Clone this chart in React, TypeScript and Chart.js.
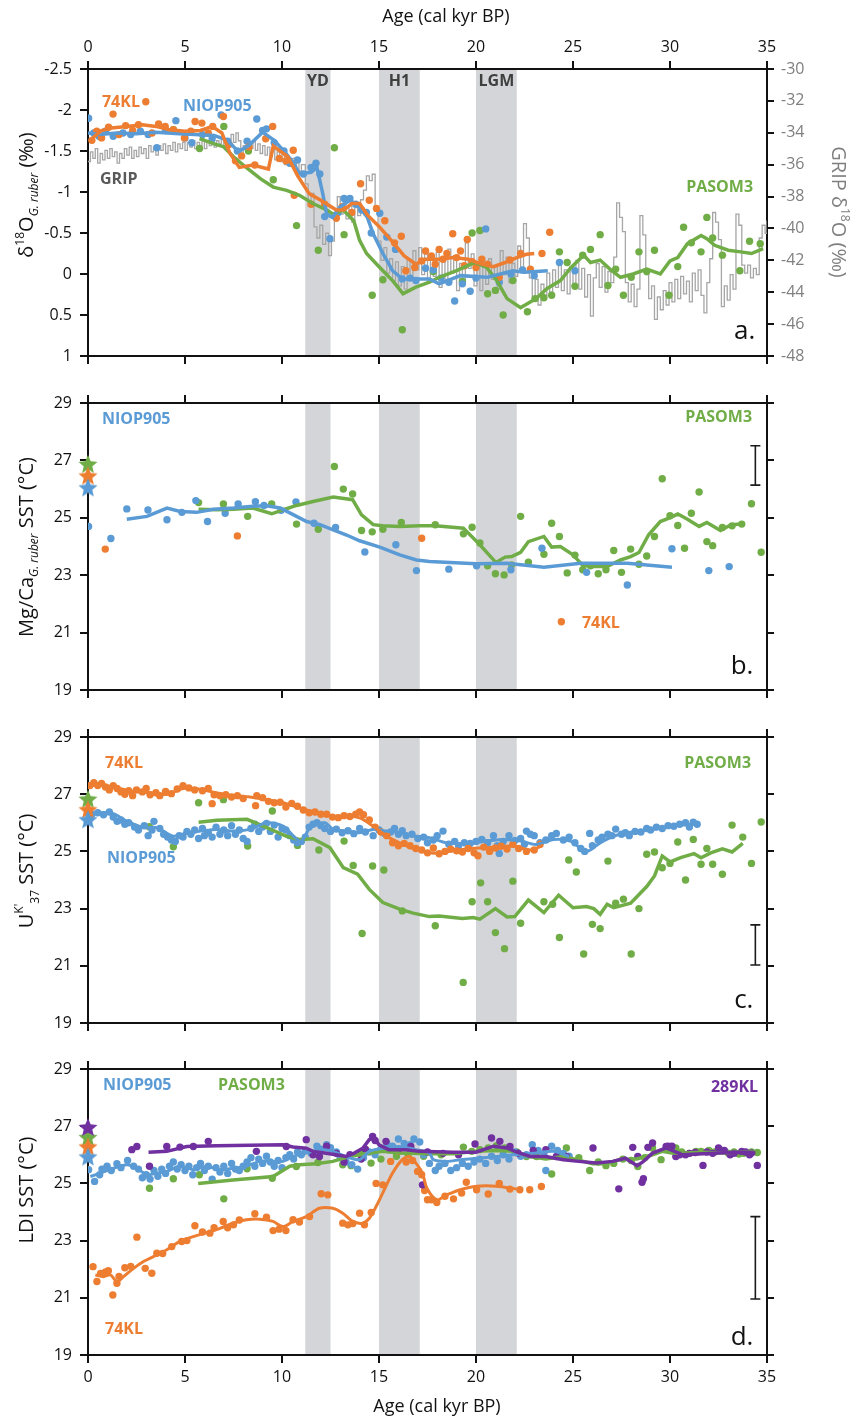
import React, { useEffect, useRef } from 'react';
import { Chart, registerables } from 'chart.js';

Chart.register(...registerables);

type P = [number, number];

const ORANGE = '#ED7D31';
const BLUE = '#5B9BD5';
const GREEN = '#70AD47';
const PURPLE = '#7030A0';
const GRIPC = '#A6A6A6';
const BANDC = '#D4D5D8';
const FONT = "'Open Sans', 'Liberation Sans', sans-serif";

// ---------- shared ----------
const ageTicks = [0, 5, 10, 15, 20, 25, 30, 35];
const eventBands = [
  { from: 11.2, to: 12.5, label: 'YD' },
  { from: 15.0, to: 17.1, label: 'H1' },
  { from: 20.0, to: 22.1, label: 'LGM' },
];

// ---------- panel a : d18O G. ruber (permil) + GRIP ----------
const a74KLPoints: P[] = [[0.2,-1.63],[0.45,-1.74],[0.7,-1.66],[1.06,-1.79],[1.29,-1.95],[1.6,-1.7],[1.94,-1.81],[2.3,-1.75],[2.6,-1.82],[2.98,-2.1],[3.3,-1.72],[3.64,-1.83],[3.98,-1.8],[4.4,-1.76],[4.97,-1.66],[5.3,-1.74],[5.52,-1.86],[5.87,-1.84],[6.2,-1.72],[6.43,-1.8],[6.98,-1.92],[7.27,-1.58],[7.6,-1.38],[7.92,-1.44],[8.3,-1.55],[8.6,-1.33],[9.16,-1.65],[9.52,-1.8],[9.86,-1.41],[10.2,-1.38],[10.58,-1.51],[10.63,-0.96],[11.5,-0.85],[12.2,-0.85],[12.8,-0.68],[13.1,-0.82],[13.6,-0.75],[14.05,-1.1],[14.5,-0.9],[14.87,-0.8],[15.3,-0.65],[15.8,-0.38],[16.15,-0.46],[16.38,-0.04],[16.84,-0.08],[17.2,-0.16],[17.4,-0.28],[17.7,-0.22],[17.9,-0.12],[18.1,-0.3],[18.3,-0.18],[18.5,-0.25],[18.8,-0.49],[19.0,-0.2],[19.2,-0.28],[19.4,-0.1],[19.55,-0.42],[19.8,-0.15],[20.0,-0.08],[20.3,-0.18],[20.6,-0.12],[21.2,0.04],[21.75,-0.17],[22.3,-0.25],[22.8,-0.06],[23.4,-0.25],[23.8,-0.51]];
const a74KLLine: P[] = [[0.2,-1.65],[0.7,-1.75],[1.2,-1.78],[2.0,-1.8],[2.8,-1.82],[3.5,-1.8],[4.2,-1.76],[5.0,-1.74],[5.8,-1.75],[6.4,-1.8],[6.9,-1.72],[7.3,-1.48],[7.8,-1.3],[8.5,-1.33],[9.3,-1.28],[9.55,-1.56],[10.3,-1.43],[10.8,-1.2],[11.4,-0.98],[12.0,-0.9],[12.8,-0.78],[13.2,-0.78],[13.6,-0.86],[14.0,-0.86],[14.4,-0.72],[15.0,-0.58],[15.6,-0.42],[16.3,-0.22],[16.9,-0.12],[17.4,-0.18],[18.1,-0.18],[18.8,-0.2],[19.6,-0.18],[20.3,-0.12],[20.9,-0.09],[21.5,-0.14],[22.1,-0.2],[22.6,-0.24],[23.0,-0.25]];
const aNiopPoints: P[] = [[0.03,-1.9],[0.3,-1.72],[0.57,-1.68],[0.9,-1.74],[1.3,-1.68],[1.8,-1.72],[2.2,-1.7],[2.7,-1.74],[3.1,-1.7],[3.55,-1.54],[4.0,-1.75],[4.53,-1.87],[5.0,-1.66],[5.35,-1.6],[5.9,-1.7],[6.4,-1.65],[6.86,-1.94],[7.2,-1.62],[7.7,-1.5],[8.2,-1.62],[8.7,-1.89],[9.0,-1.75],[9.2,-1.77],[9.6,-1.6],[10.1,-1.5],[10.4,-1.35],[10.8,-1.39],[11.1,-1.22],[11.5,-1.3],[11.75,-1.35],[11.95,-1.22],[12.2,-0.7],[12.47,-0.43],[12.9,-0.75],[13.2,-0.92],[13.5,-0.92],[13.8,-0.85],[14.1,-0.78],[14.35,-0.75],[14.6,-0.5],[15.04,-0.74],[15.4,-0.45],[15.85,-0.3],[16.2,0.06],[16.6,0.05],[16.9,0.08],[17.4,-0.07],[17.8,-0.05],[18.2,0.05],[18.6,0.1],[18.9,0.33],[19.3,0.12],[19.7,0.21],[20.0,0.05],[20.5,-0.55],[21.2,0.1],[21.8,0.0],[22.4,-0.05],[23.0,0.02],[24.3,-0.14],[25.1,-0.04]];
const aNiopLine: P[] = [[0,-1.72],[0.6,-1.7],[1.5,-1.72],[2.5,-1.71],[3.5,-1.73],[4.7,-1.71],[5.5,-1.7],[6.5,-1.69],[7.2,-1.63],[7.75,-1.49],[8.3,-1.57],[9.0,-1.73],[9.6,-1.63],[10.2,-1.47],[10.6,-1.35],[10.9,-1.22],[11.5,-1.24],[11.8,-1.3],[12.1,-0.98],[12.3,-0.73],[12.6,-0.69],[13.0,-0.82],[13.5,-0.9],[14.0,-0.82],[14.4,-0.69],[14.7,-0.49],[15.2,-0.25],[15.7,-0.04],[16.2,0.06],[16.9,0.06],[17.6,0.06],[18.1,0.12],[19.2,0.02],[20.6,0.04],[21.9,-0.04],[22.5,-0.02],[23.7,-0.04]];
const aPasomPoints: P[] = [[4.4,-1.76],[5.75,-1.53],[7.0,-1.8],[8.27,-1.5],[9.55,-1.15],[10.75,-0.59],[11.87,-0.29],[12.7,-1.54],[13.2,-0.48],[14.65,0.26],[15.2,0.07],[16.2,0.68],[17.8,-0.03],[19.3,0.09],[19.8,-0.5],[20.2,-0.53],[20.6,0.24],[21.0,0.2],[21.4,0.5],[21.9,0.08],[22.65,0.46],[23.05,0.3],[23.5,0.29],[23.9,0.26],[24.3,-0.27],[24.7,-0.14],[25.1,0.15],[25.5,-0.23],[25.9,-0.3],[26.4,-0.48],[26.8,0.14],[27.2,-0.06],[27.6,0.26],[28.0,0.04],[28.4,-0.27],[28.8,-0.03],[29.2,-0.29],[29.95,0.26],[30.4,-0.09],[30.7,-0.57],[31.1,-0.38],[31.6,-0.27],[31.9,-0.69],[32.2,-0.44],[32.7,-0.23],[33.6,-0.04],[34.1,-0.4],[34.65,-0.37]];
const aPasomLine: P[] = [[5.75,-1.65],[6.47,-1.59],[7.0,-1.55],[7.5,-1.43],[8.2,-1.29],[8.9,-1.16],[9.55,-1.06],[10.24,-1.02],[10.9,-0.96],[11.6,-0.86],[12.3,-0.78],[12.64,-0.73],[13.16,-0.78],[13.7,-0.65],[14.0,-0.41],[14.36,-0.25],[15.04,-0.08],[15.7,0.08],[16.24,0.24],[16.9,0.16],[17.6,0.1],[18.1,0.04],[19.0,-0.04],[19.95,-0.14],[20.55,-0.08],[21.07,0.08],[21.6,0.3],[22.3,0.41],[22.6,0.37],[23.1,0.3],[23.65,0.18],[24.35,0.08],[24.9,-0.08],[25.55,-0.23],[25.9,-0.14],[26.4,-0.17],[26.9,-0.06],[27.45,0.04],[28.1,0.0],[28.8,-0.06],[29.5,0.0],[30.0,-0.16],[30.4,-0.2],[30.9,-0.37],[31.6,-0.47],[31.9,-0.43],[32.3,-0.35],[33.0,-0.29],[33.65,-0.27],[34.2,-0.25],[34.8,-0.31]];
const gripD18O: P[] = [[0,-35.8],[0.125,-35.2],[0.25,-35.6],[0.375,-35.0],[0.5,-35.9],[0.625,-35.3],[0.75,-35.7],[0.875,-35.1],[1,-35.6],[1.125,-35.0],[1.25,-35.5],[1.375,-35.2],[1.5,-35.9],[1.625,-35.3],[1.75,-35.6],[1.875,-35.0],[2,-35.4],[2.125,-34.9],[2.25,-35.6],[2.375,-35.1],[2.5,-35.5],[2.625,-34.9],[2.75,-35.3],[2.875,-35.0],[3,-35.6],[3.125,-34.8],[3.25,-35.2],[3.375,-34.9],[3.5,-35.4],[3.625,-34.8],[3.75,-35.1],[3.875,-34.7],[4,-35.3],[4.125,-34.8],[4.25,-35.1],[4.375,-34.6],[4.5,-35.2],[4.625,-34.7],[4.75,-35.0],[4.875,-34.6],[5,-35.1],[5.125,-34.6],[5.25,-34.9],[5.375,-34.5],[5.5,-35.0],[5.625,-34.6],[5.75,-34.8],[5.875,-34.4],[6,-35.0],[6.125,-34.5],[6.25,-34.8],[6.375,-34.3],[6.5,-34.9],[6.625,-34.5],[6.75,-34.7],[6.875,-34.3],[7,-34.9],[7.125,-34.4],[7.25,-34.8],[7.375,-34.1],[7.5,-34.6],[7.625,-34.0],[7.75,-34.5],[7.875,-35.3],[8,-34.8],[8.125,-35.2],[8.25,-34.6],[8.375,-35.0],[8.5,-34.5],[8.625,-35.1],[8.75,-34.7],[8.875,-35.3],[9,-34.8],[9.125,-35.4],[9.25,-34.9],[9.375,-35.5],[9.5,-35.0],[9.625,-35.7],[9.75,-35.2],[9.875,-35.8],[10,-35.3],[10.125,-36.0],[10.25,-35.5],[10.375,-36.1],[10.5,-35.6],[10.625,-36.2],[10.75,-35.8],[10.875,-36.4],[11,-36.0],[11.2,-37.2],[11.35,-38.6],[11.5,-37.8],[11.65,-39.9],[11.8,-40.6],[11.95,-39.8],[12.1,-41.0],[12.25,-40.3],[12.4,-41.7],[12.55,-40.8],[12.7,-39.2],[12.85,-38.0],[13,-39.1],[13.15,-38.3],[13.3,-39.4],[13.45,-38.6],[13.6,-39.6],[13.75,-38.7],[13.9,-39.2],[14.05,-38.2],[14.2,-37.6],[14.35,-36.7],[14.5,-37.0],[14.65,-36.6],[14.8,-38.9],[14.95,-40.8],[15.1,-42.0],[15.25,-41.2],[15.4,-42.8],[15.55,-41.9],[15.7,-43.3],[15.85,-42.1],[16,-43.6],[16.15,-42.4],[16.3,-43.8],[16.45,-42.0],[16.6,-43.1],[16.75,-41.4],[16.9,-42.6],[17.05,-41.2],[17.2,-42.9],[17.35,-41.6],[17.5,-43.4],[17.65,-41.9],[17.8,-43.0],[17.95,-41.5],[18.1,-43.7],[18.25,-42.0],[18.4,-43.2],[18.55,-41.3],[18.7,-42.8],[18.85,-41.7],[19,-43.9],[19.15,-42.2],[19.3,-43.4],[19.45,-40.9],[19.6,-42.5],[19.75,-41.6],[19.9,-43.6],[20.05,-42.3],[20.2,-43.9],[20.35,-42.1],[20.5,-43.5],[20.65,-41.9],[20.8,-43.2],[20.95,-42.4],[21.1,-43.8],[21.25,-41.4],[21.4,-42.9],[21.55,-41.8],[21.7,-43.4],[21.85,-42.2],[22,-43.0],[22.15,-41.1],[22.3,-42.7],[22.45,-39.7],[22.6,-40.6],[22.75,-43.1],[22.9,-44.4],[23.05,-43.2],[23.2,-44.8],[23.35,-43.5],[23.5,-44.2],[23.65,-42.8],[23.8,-44.0],[23.95,-42.6],[24.1,-43.7],[24.25,-42.3],[24.4,-43.9],[24.55,-42.6],[24.7,-44.1],[24.85,-42.4],[25,-43.6],[25.15,-42.0],[25.3,-43.8],[25.45,-42.5],[25.6,-44.3],[25.75,-42.9],[25.9,-45.5],[26.05,-43.1],[26.2,-42.2],[26.35,-43.7],[26.5,-42.4],[26.65,-44.0],[26.8,-42.7],[26.95,-43.4],[27.1,-41.8],[27.25,-38.4],[27.4,-39.3],[27.55,-40.2],[27.7,-43.4],[27.85,-44.6],[28,-43.5],[28.15,-44.9],[28.3,-43.8],[28.45,-39.2],[28.6,-40.4],[28.75,-42.9],[28.9,-44.4],[29.05,-43.6],[29.2,-45.7],[29.35,-44.3],[29.5,-45.1],[29.65,-43.9],[29.8,-44.8],[29.95,-43.4],[30.1,-44.6],[30.25,-43.2],[30.4,-44.4],[30.55,-43.0],[30.7,-44.1],[30.85,-43.3],[31,-44.6],[31.15,-42.8],[31.3,-43.9],[31.45,-42.6],[31.6,-44.2],[31.75,-45.3],[31.9,-43.4],[32.05,-41.9],[32.2,-39.0],[32.35,-39.6],[32.5,-40.7],[32.65,-44.9],[32.8,-43.6],[32.95,-44.5],[33.1,-42.9],[33.25,-43.8],[33.4,-39.1],[33.55,-39.8],[33.7,-42.3],[33.85,-42.8],[34,-42.3],[34.15,-43.1],[34.3,-42.5],[34.45,-42.9],[34.6,-40.6],[34.75,-39.8],[34.9,-40.3],[35,-39.5]];

// ---------- panel b : Mg/Ca SST ----------
const bNiopPoints: P[] = [[0.03,24.7],[1.18,24.28],[2.0,25.31],[3.09,25.27],[4.07,24.93],[4.84,25.19],[5.56,25.6],[6.16,24.87],[7.07,25.16],[7.74,25.48],[8.63,25.56],[9.07,25.43],[9.95,25.26],[10.72,25.55],[11.65,24.81],[12.76,24.66],[14.27,23.81],[15.87,24.06],[16.93,23.16],[18.6,23.21],[20.03,23.33],[21.8,23.19],[23.4,23.94],[25.7,23.1],[27.8,22.66],[30.1,23.92],[32.0,23.16],[33.05,23.3]];
const bNiopLine: P[] = [[2.0,24.95],[3.04,25.05],[4.07,25.34],[4.75,25.22],[5.6,25.19],[6.47,25.3],[7.5,25.34],[8.5,25.4],[9.2,25.42],[9.9,25.34],[10.6,25.1],[11.27,24.87],[11.96,24.76],[12.64,24.58],[13.33,24.4],[14.0,24.2],[15.04,23.98],[16.07,23.71],[16.93,23.53],[17.6,23.48],[18.66,23.44],[20.03,23.4],[21.6,23.42],[23.5,23.28],[25.4,23.42],[27.8,23.42],[30.1,23.28]];
const bPasomPoints: P[] = [[5.7,25.53],[6.98,25.48],[8.23,25.05],[9.47,25.48],[10.75,24.78],[11.87,24.6],[12.7,26.79],[13.16,26.0],[13.64,25.83],[14.1,24.56],[14.65,24.51],[15.2,24.6],[16.15,24.84],[17.9,24.76],[19.35,24.44],[19.8,24.67],[20.2,24.12],[20.6,23.33],[21.0,23.05],[21.45,23.01],[21.84,23.36],[22.3,25.05],[22.7,23.45],[23.5,23.73],[23.9,24.81],[24.3,24.35],[24.7,23.08],[25.1,23.7],[25.5,23.19],[25.9,23.33],[26.3,23.05],[26.7,23.19],[27.1,23.86],[27.5,23.1],[27.97,23.91],[28.4,23.38],[28.8,23.67],[29.2,24.35],[29.6,26.36],[30.0,25.07],[30.4,24.73],[30.75,23.94],[31.1,25.16],[31.5,25.9],[31.9,24.17],[32.2,24.03],[32.7,24.66],[33.2,24.72],[33.7,24.78],[34.2,25.49],[34.7,23.8]];
const bPasomLine: P[] = [[5.7,25.3],[6.64,25.28],[7.5,25.3],[8.5,25.34],[9.47,25.14],[10.07,25.28],[10.75,25.43],[11.6,25.57],[12.64,25.72],[13.64,25.63],[14.1,25.1],[14.7,24.76],[15.2,24.72],[16.07,24.7],[17.1,24.72],[17.9,24.72],[19.35,24.64],[20.2,24.06],[21.03,23.44],[21.5,23.63],[21.84,23.65],[22.3,23.8],[22.7,24.17],[23.5,24.35],[23.9,23.98],[24.35,24.0],[25.0,23.71],[25.5,23.34],[26.0,23.3],[26.76,23.3],[27.45,23.53],[27.97,23.65],[28.4,23.79],[28.9,24.41],[29.5,24.87],[29.95,24.99],[30.4,25.13],[30.9,24.95],[31.5,24.7],[31.9,24.84],[32.6,24.56],[33.15,24.76],[33.65,24.78]];
const b74KLPoints: P[] = [[0.89,23.91],[7.7,24.37],[17.2,24.29],[24.4,21.38]];
const bCoretopSST = { niop: 26.06, kl74: 26.47, pasom: 26.88 };
const bErrorBar = { age: 34.4, lo: 26.14, hi: 27.51 };

// ---------- panel c : UK'37 SST ----------
const c74KLPoints: P[] = [[0.1,27.3],[0.3,27.4],[0.5,27.3],[0.7,27.38],[0.9,27.25],[1.1,27.15],[1.3,27.3],[1.5,27.2],[1.7,27.08],[1.9,27.0],[2.1,27.12],[2.3,26.95],[2.5,27.15],[2.8,27.08],[3.0,27.2],[3.2,26.98],[3.5,27.05],[3.7,26.95],[4.0,27.1],[4.3,27.02],[4.6,27.18],[4.9,27.3],[5.2,27.22],[5.5,27.15],[5.9,27.12],[6.2,27.2],[6.4,26.67],[6.5,26.98],[6.8,26.95],[7.1,26.98],[7.4,26.9],[7.7,26.95],[8.0,26.85],[8.64,26.6],[8.7,26.95],[9.0,26.88],[9.3,26.75],[9.6,26.7],[9.9,26.72],[10.2,26.55],[10.5,26.68],[10.8,26.58],[11.1,26.45],[11.4,26.35],[11.7,26.38],[12.0,26.3],[12.3,26.3],[12.6,26.2],[12.9,26.18],[13.2,26.25],[13.5,26.22],[13.8,26.3],[14.0,26.38],[14.2,26.28],[14.5,26.1],[14.8,25.85],[15.1,25.68],[15.4,25.55],[15.7,25.3],[16.0,25.2],[16.3,25.28],[16.6,25.2],[16.9,25.1],[17.2,25.05],[17.5,24.95],[17.8,25.12],[18.1,24.92],[18.4,25.0],[18.7,25.08],[19.0,25.02],[19.3,24.98],[19.6,25.1],[19.9,24.95],[20.1,24.85],[20.4,25.15],[20.7,25.0],[21.0,25.12],[21.3,25.18],[21.6,25.08],[21.9,25.25],[22.2,25.1],[22.6,25.0],[23.0,25.05],[23.3,25.25]];
const c74KLLine: P[] = [[0.0,27.28],[0.6,27.34],[1.5,27.22],[2.3,27.1],[3.2,27.05],[4.07,26.99],[4.9,27.2],[5.8,27.17],[6.6,27.05],[7.5,26.95],[8.35,26.9],[9.2,26.81],[10.07,26.7],[10.9,26.52],[11.8,26.35],[12.64,26.23],[13.3,26.23],[14.0,26.17],[14.7,25.88],[15.4,25.53],[16.07,25.3],[16.9,25.07],[17.6,24.95],[18.1,24.95],[19.3,25.07],[20.55,25.13],[21.9,25.19],[22.8,25.05],[23.45,25.21]];
const cNiopPoints: P[] = [[0.0,26.2],[0.2,26.3],[0.5,26.35],[0.8,26.28],[1.1,26.38],[1.3,26.2],[1.5,26.05],[1.7,26.1],[1.9,25.95],[2.1,26.0],[2.4,25.85],[2.6,25.75],[2.9,25.9],[3.1,25.55],[3.3,25.75],[3.4,26.05],[3.7,25.8],[3.9,25.6],[4.1,25.5],[4.3,25.4],[4.5,25.35],[4.7,25.55],[4.9,25.5],[5.1,25.7],[5.3,25.6],[5.5,25.75],[5.7,25.45],[5.9,25.8],[6.0,25.55],[6.2,25.65],[6.4,25.5],[6.6,25.85],[6.8,25.6],[7.0,25.75],[7.2,25.55],[7.4,25.9],[7.6,25.6],[7.8,25.75],[8.0,25.45],[8.2,25.35],[8.4,25.8],[8.6,25.95],[8.8,25.7],[9.0,25.85],[9.2,25.98],[9.4,25.7],[9.6,25.92],[9.8,25.5],[10.0,25.8],[10.2,25.75],[10.4,25.55],[10.6,25.4],[10.8,25.3],[11.0,25.35],[11.2,25.5],[11.4,25.85],[11.6,25.95],[11.8,26.0],[12.0,25.9],[12.2,25.8],[12.5,25.7],[12.8,25.78],[13.1,25.65],[13.4,25.72],[13.7,25.62],[14.0,25.8],[14.3,25.68],[14.7,25.55],[15.0,25.75],[15.3,25.62],[15.6,25.68],[15.8,25.8],[16.0,25.6],[16.2,25.72],[16.4,25.55],[16.7,25.6],[17.0,25.45],[17.3,25.5],[17.5,25.3],[17.8,25.4],[18.0,25.55],[18.3,25.71],[18.6,25.25],[18.9,25.35],[19.1,25.2],[19.4,25.3],[19.7,25.28],[20.0,25.35],[20.3,25.42],[20.6,25.3],[20.9,25.55],[21.1,25.2],[21.2,24.93],[21.4,25.35],[21.7,25.55],[22.0,25.38],[22.3,25.45],[22.5,25.25],[22.6,25.71],[22.8,25.6],[23.0,25.55],[23.3,25.3],[23.6,25.4],[23.9,25.55],[24.14,25.63],[24.5,25.4],[24.8,25.5],[25.1,25.3],[25.4,25.1],[25.6,25.0],[25.86,25.63],[26.0,25.2],[26.3,25.4],[26.5,25.5],[26.8,25.6],[27.0,25.55],[27.2,25.78],[27.5,25.6],[27.7,25.65],[27.9,25.55],[28.2,25.7],[28.5,25.68],[28.8,25.8],[29.0,25.75],[29.3,25.85],[29.6,25.8],[29.9,25.9],[30.2,25.88],[30.5,25.95],[30.8,26.0],[31.0,25.85],[31.2,26.02],[31.4,25.95]];
const cNiopLine: P[] = [[0,26.29],[1.15,26.35],[2.0,26.06],[2.86,25.83],[3.55,25.83],[4.4,25.53],[5.1,25.65],[5.8,25.71],[6.6,25.77],[7.5,25.71],[8.35,25.77],[9.2,26.0],[10.07,25.88],[10.6,25.53],[11.0,25.36],[11.5,25.88],[12.2,26.0],[12.64,25.77],[13.33,25.71],[14.0,25.65],[14.7,25.77],[15.4,25.71],[16.07,25.65],[16.9,25.53],[17.6,25.48],[18.5,25.3],[19.7,25.28],[20.55,25.36],[21.4,25.42],[22.3,25.36],[23.1,25.24],[24.0,25.42],[24.86,25.36],[25.7,25.0],[26.4,25.3],[27.1,25.53],[27.8,25.65],[28.5,25.71],[29.2,25.77],[30.0,25.88],[30.9,25.94],[31.4,25.94]];
const cPasomPoints: P[] = [[3.16,25.86],[4.4,25.16],[5.7,26.7],[6.98,26.81],[8.23,25.19],[9.5,26.41],[10.8,25.21],[11.9,25.05],[13.2,25.36],[13.67,24.51],[14.13,22.13],[14.67,24.49],[15.25,24.35],[16.2,22.92],[17.9,22.4],[19.34,20.42],[19.8,23.24],[20.24,23.9],[20.6,23.24],[21.0,22.16],[21.47,21.6],[21.9,23.96],[22.3,22.49],[23.5,23.24],[23.95,23.15],[24.3,21.99],[24.78,24.7],[25.17,24.28],[25.55,21.41],[26.0,22.45],[26.4,22.3],[26.8,24.66],[27.2,23.19],[27.6,23.33],[28.0,21.41],[28.4,23.0],[28.8,24.9],[29.2,24.98],[29.6,24.43],[30.0,24.58],[30.4,25.33],[30.8,24.0],[31.2,25.42],[31.6,24.55],[31.9,25.1],[32.2,24.55],[32.7,24.2],[33.2,25.92],[33.75,25.5],[34.2,24.58],[34.7,26.03]];
const cPasomLine: P[] = [[5.7,26.02],[6.64,26.09],[8.2,26.12],[9.04,25.88],[10.24,25.53],[10.9,25.42],[11.6,25.44],[12.47,25.13],[13.16,24.43],[13.9,24.2],[14.5,23.67],[15.2,23.21],[16.07,22.98],[16.76,22.84],[17.6,22.72],[18.1,22.74],[19.3,22.65],[19.86,22.69],[20.2,22.63],[21.0,23.0],[21.6,22.71],[22.0,22.72],[22.7,23.3],[23.5,22.86],[24.26,23.47],[25.0,23.03],[25.7,23.07],[26.07,23.0],[26.4,22.8],[26.76,23.15],[27.1,23.03],[27.97,23.19],[28.8,23.77],[29.2,24.14],[29.6,24.84],[30.0,24.63],[30.55,24.78],[31.24,24.92],[31.6,24.78],[32.1,24.95],[32.7,25.09],[33.2,24.98],[33.75,25.28]];
const cCoretopSST = { niop: 26.12, kl74: 26.47, pasom: 26.84 };
const cErrorBar = { age: 34.4, lo: 21.03, hi: 22.43 };

// ---------- panel d : LDI SST ----------
const d74KLPoints: P[] = [[0.26,22.09],[0.46,21.57],[0.65,21.85],[0.9,21.9],[1.05,21.95],[1.28,21.1],[1.49,21.51],[1.6,21.75],[1.9,22.05],[2.2,22.1],[2.52,23.12],[2.95,22.03],[3.29,21.86],[3.55,22.56],[3.85,22.55],[4.32,22.79],[4.83,22.97],[5.1,23.0],[5.51,23.52],[5.9,23.3],[6.28,23.26],[6.5,23.45],[6.97,23.67],[7.2,23.45],[7.5,23.55],[7.8,23.72],[8.6,23.94],[9.2,23.82],[9.54,23.35],[9.85,23.4],[10.2,23.35],[10.57,23.73],[10.9,23.65],[11.42,23.84],[12.02,24.64],[12.36,24.6],[13.13,23.61],[13.4,23.55],[13.65,23.6],[14.0,23.96],[14.25,23.55],[14.6,23.98],[14.85,25.0],[15.19,24.95],[15.6,25.77],[16.0,26.12],[16.4,25.75],[16.73,25.8],[16.99,25.42],[17.2,25.3],[17.35,24.75],[17.5,24.43],[17.7,24.43],[17.98,24.33],[18.4,24.55],[18.84,24.46],[19.26,24.66],[19.5,25.04],[20.03,24.78],[20.63,24.63],[21.2,25.0],[21.75,24.8],[22.26,24.78],[22.77,24.78],[23.37,24.89]];
const d74KLLine: P[] = [[0.38,21.8],[0.8,21.74],[1.15,21.8],[1.5,21.57],[1.83,21.74],[2.35,22.03],[2.86,22.27],[3.37,22.44],[4.06,22.68],[4.74,22.97],[5.43,23.14],[6.11,23.28],[6.8,23.43],[7.48,23.61],[8.17,23.73],[8.85,23.75],[9.54,23.67],[10.05,23.49],[10.57,23.67],[11.25,23.84],[11.93,24.13],[12.62,24.13],[13.13,23.96],[13.65,23.67],[14.16,23.61],[14.5,23.78],[14.85,24.19],[15.19,24.66],[15.7,25.36],[16.2,25.83],[16.56,25.94],[16.9,25.71],[17.24,25.36],[17.47,24.83],[17.98,24.43],[18.5,24.6],[19.18,24.78],[20.03,24.9],[21.06,24.9],[22.1,24.8]];
const dNiopPoints: P[] = [[0.03,25.48],[0.34,25.07],[0.6,25.3],[0.72,25.5],[0.98,25.6],[1.2,25.45],[1.49,25.69],[1.7,25.55],[2.04,25.8],[2.35,25.6],[2.6,25.5],[2.8,25.2],[3.0,25.3],[3.2,25.15],[3.4,25.45],[3.6,25.25],[3.8,25.5],[4.0,25.35],[4.2,25.6],[4.4,25.75],[4.6,25.5],[4.8,25.65],[5.0,25.45],[5.2,25.6],[5.4,25.3],[5.6,25.55],[5.8,25.7],[6.0,25.45],[6.2,25.6],[6.4,25.15],[6.6,25.55],[6.8,25.4],[7.0,25.6],[7.2,25.35],[7.4,25.7],[7.6,25.5],[7.8,25.45],[8.0,25.6],[8.2,25.75],[8.4,25.9],[8.6,25.6],[8.8,25.85],[9.0,25.7],[9.2,25.95],[9.4,25.75],[9.6,25.6],[9.8,25.8],[10.0,25.55],[10.2,25.9],[10.4,26.0],[10.6,25.85],[10.8,26.1],[11.0,26.0],[11.2,26.15],[11.5,26.05],[11.8,26.3],[12.0,26.2],[12.3,26.35],[12.5,26.25],[12.8,26.1],[13.0,25.9],[13.3,25.75],[13.6,25.65],[13.9,25.5],[14.2,25.9],[14.5,26.1],[14.8,26.0],[15.1,26.2],[15.4,26.4],[15.7,26.3],[16.0,26.55],[16.3,26.4],[16.6,26.35],[16.8,26.55],[17.1,26.45],[17.3,26.0],[17.6,25.7],[17.9,25.45],[18.1,25.6],[18.4,25.7],[18.7,25.45],[19.0,25.55],[19.3,25.7],[19.6,25.6],[19.9,25.75],[20.2,25.85],[20.5,25.7],[20.8,25.95],[21.1,25.8],[21.4,26.0],[21.7,25.85],[22.0,26.1],[22.3,25.95],[22.6,26.0],[22.9,26.35],[23.2,26.15],[23.5,26.0],[23.6,25.45],[23.9,26.3],[24.2,26.15],[24.5,26.05],[24.8,25.95]];
const dNiopLine: P[] = [[0.12,25.24],[0.63,25.36],[1.32,25.53],[2.0,25.65],[2.52,25.53],[3.03,25.3],[3.55,25.36],[4.06,25.42],[4.74,25.6],[5.43,25.48],[6.11,25.6],[6.8,25.48],[7.48,25.53],[8.17,25.6],[8.85,25.77],[9.54,25.77],[10.05,25.77],[10.57,25.94],[11.25,26.06],[11.93,26.18],[12.62,26.12],[13.3,25.94],[14.0,25.83],[14.5,26.12],[15.19,26.23],[16.04,26.29],[16.9,26.18],[17.6,26.06],[17.8,25.83],[18.5,25.77],[19.2,25.83],[20.0,25.88],[21.06,25.94],[21.9,26.0],[23.1,26.06],[24.0,26.12],[24.8,25.94]];
const dPasomPoints: P[] = [[3.17,24.83],[4.4,25.16],[5.74,25.3],[7.0,24.46],[8.2,25.51],[9.5,25.18],[10.74,25.59],[11.85,25.73],[13.13,25.65],[13.56,25.62],[14.08,26.08],[14.59,25.71],[15.1,25.85],[15.9,25.95],[16.5,26.0],[17.3,25.95],[18.2,26.0],[19.35,26.27],[19.78,26.12],[20.2,26.18],[20.63,26.24],[21.06,26.32],[21.49,26.24],[22.1,26.1],[22.6,25.94],[23.12,25.94],[23.9,25.33],[24.3,26.0],[24.66,26.24],[25.3,25.9],[25.86,25.45],[26.3,25.75],[26.7,25.62],[27.1,25.7],[27.57,25.85],[28.0,25.8],[28.34,25.59],[28.7,25.9],[29.1,26.24],[29.54,25.83],[29.8,26.2],[30.3,26.24],[30.6,26.1],[31.0,26.05],[31.34,26.12],[31.6,26.12],[32.0,26.15],[32.3,26.1],[32.7,26.15],[33.0,26.06],[33.3,26.1],[33.55,26.03],[33.8,26.05],[34.2,26.1],[34.5,26.08]];
const dPasomLine: P[] = [[5.68,25.0],[7.48,25.12],[9.54,25.24],[10.4,25.6],[10.9,25.65],[11.76,25.69],[12.62,25.77],[13.47,25.94],[14.33,26.04],[15.19,26.12],[16.04,26.06],[17.6,26.04],[18.84,26.04],[20.0,26.12],[21.06,26.15],[21.9,26.12],[22.77,25.94],[23.6,25.85],[24.5,25.94],[25.2,25.83],[26.0,25.69],[26.7,25.69],[27.4,25.83],[28.25,25.85],[29.1,26.0],[29.6,26.12],[30.1,26.06],[30.8,26.06],[31.7,26.09],[32.5,26.06],[33.4,26.09],[34.4,26.09]];
const d289KLPoints: P[] = [[2.26,26.18],[2.52,26.29],[3.17,25.6],[4.06,26.29],[4.74,26.27],[5.43,26.29],[6.2,26.47],[8.68,26.12],[10.22,26.29],[11.25,26.53],[11.6,26.0],[11.93,25.94],[12.3,26.3],[12.8,26.05],[13.2,25.75],[13.5,26.0],[14.08,25.85],[14.3,26.2],[14.67,26.64],[14.8,26.5],[15.36,26.47],[16.0,26.2],[16.64,26.29],[17.24,24.95],[17.5,26.1],[18.3,26.05],[19.1,26.0],[19.95,26.38],[20.8,26.59],[21.23,26.47],[21.75,26.29],[22.17,26.06],[22.95,26.15],[23.6,26.18],[24.14,25.94],[24.66,25.94],[26.03,26.24],[27.36,24.81],[28.08,26.26],[28.34,25.94],[28.56,25.04],[28.63,25.16],[28.86,26.26],[29.1,26.41],[29.8,26.29],[29.9,26.3],[30.1,26.3],[30.3,25.94],[30.5,26.0],[30.8,26.0],[31.0,26.05],[31.3,26.08],[31.7,25.63],[31.9,26.1],[32.2,26.05],[32.5,26.24],[32.8,26.15],[33.1,26.0],[33.3,26.05],[33.7,26.12],[33.9,26.1],[34.1,26.0],[34.2,26.06],[34.5,25.63]];
const d289KLLine: P[] = [[3.12,26.09],[4.06,26.12],[5.09,26.29],[6.63,26.32],[8.34,26.33],[10.05,26.35],[10.57,26.27],[11.25,26.23],[11.6,26.12],[12.19,26.06],[12.79,26.0],[13.3,25.94],[13.73,26.06],[14.16,26.23],[14.5,26.53],[14.76,26.58],[15.0,26.35],[15.5,26.18],[16.4,26.18],[17.07,26.12],[18.84,26.09],[20.0,26.09],[20.9,26.3],[21.6,26.24],[22.1,26.09],[22.8,25.94],[23.6,25.94],[24.5,25.83],[25.3,25.77],[26.2,25.71],[27.05,25.77],[27.7,25.88],[28.3,25.62],[28.6,25.75],[29.1,26.06],[29.8,26.24],[30.65,26.0],[31.7,26.04],[32.5,26.06],[33.55,26.09],[34.4,26.06]];
const dCoretopSST = { niop: 25.94, kl74: 26.29, pasom: 26.62, kl289: 26.97 };
const dErrorBar = { age: 34.4, lo: 20.96, hi: 23.84 };

// ---------- helpers ----------
const xy = (arr: P[]) => arr.map(([x, y]) => ({ x, y }));

function makeStar(color: string, R = 10): HTMLCanvasElement {
  const c = document.createElement('canvas');
  const size = Math.ceil(R * 2 + 2);
  c.width = size; c.height = size;
  const g = c.getContext('2d')!;
  const cx = size / 2, cy = size / 2 + 1, r = R * 0.45;
  g.beginPath();
  for (let i = 0; i < 10; i++) {
    const ang = -Math.PI / 2 + (i * Math.PI) / 5;
    const rr = i % 2 === 0 ? R : r;
    const px = cx + rr * Math.cos(ang), py = cy + rr * Math.sin(ang);
    if (i === 0) g.moveTo(px, py); else g.lineTo(px, py);
  }
  g.closePath();
  g.fillStyle = color;
  g.fill();
  return c;
}

const scatter = (arr: P[], color: string, axis = 'y') => ({
  type: 'scatter', data: xy(arr), yAxisID: axis,
  backgroundColor: color, borderColor: color, borderWidth: 0, pointRadius: 3.7, order: 2,
});
const line = (arr: P[], color: string, width = 3.5, tension = 0) => ({
  type: 'line', data: xy(arr), borderColor: color, backgroundColor: color,
  borderWidth: width, pointRadius: 0, fill: false, tension, order: 1,
});
const star = (v: number, color: string, order: number) => ({
  type: 'scatter', data: [{ x: 0, y: v }], pointStyle: makeStar(color), pointRadius: 10,
  order, clip: false,
});

interface Seg { t: string; s: number; dy?: number; it?: boolean }
interface Lbl { t: string; x: number; y: number; c: string; align: CanvasTextAlign; size?: number; bold?: boolean }
interface Spec {
  top: number; height: number; areaTop: number; areaBottom: number;
  yMin: number; yMax: number; yStep: number; yReverse?: boolean;
  rMin: number; rMax: number; rStep: number; rLabels: boolean;
  topLabels: boolean; bottomLabels: boolean;
  datasets: any[]; labels: Lbl[];
  leftTitle: Seg[]; leftTitleY: number;
  rightTitle?: Seg[]; rightTitleY?: number;
  errorBar?: { age: number; lo: number; hi: number };
  bandLabels?: boolean; topAgeTitle?: boolean; bottomAgeTitle?: boolean;
}

function drawRich(ctx: CanvasRenderingContext2D, segs: Seg[], cx: number, cy: number, rot: number, color: string) {
  ctx.save();
  ctx.translate(cx, cy);
  ctx.rotate(rot);
  ctx.fillStyle = color;
  ctx.textBaseline = 'alphabetic';
  ctx.textAlign = 'left';
  const f = (s: Seg) => `${s.it ? 'italic ' : ''}${s.s}px ${FONT}`;
  let total = 0;
  for (const s of segs) { ctx.font = f(s); total += ctx.measureText(s.t).width; }
  let x = -total / 2;
  for (const s of segs) { ctx.font = f(s); ctx.fillText(s.t, x, s.dy || 0); x += ctx.measureText(s.t).width; }
  ctx.restore();
}

function decoPlugin(p: Spec) {
  return {
    id: 'deco',
    beforeDraw(chart: any) {
      const ctx = chart.ctx;
      const { top, bottom } = chart.chartArea;
      const xs = chart.scales.x;
      ctx.save();
      ctx.fillStyle = '#ffffff';
      ctx.fillRect(0, 0, chart.width, chart.height);
      ctx.fillStyle = BANDC;
      for (const b of eventBands) {
        const x1 = xs.getPixelForValue(b.from), x2 = xs.getPixelForValue(b.to);
        ctx.fillRect(x1, top, x2 - x1, bottom - top);
      }
      ctx.restore();
    },
    afterDraw(chart: any) {
      const ctx = chart.ctx;
      const xs = chart.scales.x, ys = chart.scales.y;
      const ca = chart.chartArea;
      ctx.save();
      if (p.bandLabels) {
        ctx.font = `bold 16px ${FONT}`;
        ctx.fillStyle = '#3F3F3F';
        ctx.textAlign = 'center';
        ctx.textBaseline = 'middle';
        for (const b of eventBands) ctx.fillText(b.label, xs.getPixelForValue((b.from + b.to) / 2), ca.top + 12);
      }
      for (const l of p.labels) {
        ctx.font = `${l.bold === false ? '' : 'bold '}${l.size || 16}px ${FONT}`;
        ctx.fillStyle = l.c;
        ctx.textAlign = l.align;
        ctx.textBaseline = 'middle';
        ctx.fillText(l.t, xs.getPixelForValue(l.x), ys.getPixelForValue(l.y));
      }
      if (p.errorBar) {
        const ex = xs.getPixelForValue(p.errorBar.age);
        const y1 = ys.getPixelForValue(p.errorBar.lo), y2 = ys.getPixelForValue(p.errorBar.hi);
        ctx.strokeStyle = '#1a1a1a';
        ctx.lineWidth = 1.6;
        ctx.beginPath();
        ctx.moveTo(ex, y1); ctx.lineTo(ex, y2);
        ctx.moveTo(ex - 5, y1); ctx.lineTo(ex + 5, y1);
        ctx.moveTo(ex - 5, y2); ctx.lineTo(ex + 5, y2);
        ctx.stroke();
      }
      drawRich(ctx, p.leftTitle, 33, p.leftTitleY - p.top, -Math.PI / 2, '#111');
      if (p.rightTitle) drawRich(ctx, p.rightTitle, 832, (p.rightTitleY || 0) - p.top, Math.PI / 2, '#7F7F7F');
      ctx.fillStyle = '#111';
      ctx.font = `18px ${FONT}`;
      ctx.textAlign = 'center';
      ctx.textBaseline = 'middle';
      if (p.topAgeTitle) ctx.fillText('Age (cal kyr BP)', 446, 17);
      if (p.bottomAgeTitle) ctx.fillText('Age (cal kyr BP)', 437, 1407 - p.top);
      ctx.restore();
    },
  };
}

const plainNumber = (v: any) => String(Number(v));

function buildConfig(p: Spec): any {
  const tickFont = { family: FONT, size: 16 };
  const grid = { drawOnChartArea: false, drawTicks: true, tickLength: 8, color: '#111', lineWidth: 2 };
  const border = { display: true, color: '#111', width: 2 };
  const topH = p.areaTop - p.top;
  const botH = p.top + p.height - p.areaBottom;
  return {
    type: 'scatter',
    data: { datasets: p.datasets },
    options: {
      responsive: false,
      animation: false,
      events: [],
      layout: { padding: 0 },
      plugins: { legend: { display: false }, tooltip: { enabled: false } },
      scales: {
        x: {
          type: 'linear', position: 'bottom', min: 0, max: 35,
          afterBuildTicks: (s: any) => { s.ticks = ageTicks.map((v) => ({ value: v })); },
          ticks: { display: p.bottomLabels, color: '#111', font: tickFont, padding: 5, maxRotation: 0, autoSkip: false, callback: plainNumber },
          grid, border,
          afterFit: (s: any) => { s.height = botH; },
        },
        xt: {
          type: 'linear', position: 'top', min: 0, max: 35,
          afterBuildTicks: (s: any) => { s.ticks = ageTicks.map((v) => ({ value: v })); },
          ticks: { display: p.topLabels, color: '#111', font: tickFont, padding: 4, maxRotation: 0, autoSkip: false, callback: plainNumber },
          grid, border,
          afterFit: (s: any) => { s.height = topH; },
        },
        y: {
          type: 'linear', position: 'left', min: p.yMin, max: p.yMax, reverse: !!p.yReverse,
          ticks: { stepSize: p.yStep, color: '#111', font: tickFont, padding: 8, callback: plainNumber },
          grid, border,
          afterFit: (s: any) => { s.width = 88; },
        },
        yr: {
          type: 'linear', position: 'right', min: p.rMin, max: p.rMax,
          ticks: { stepSize: p.rStep, display: p.rLabels, color: '#7F7F7F', font: tickFont, padding: 7, callback: plainNumber },
          grid: { ...grid, tickLength: 7 }, border,
          afterFit: (s: any) => { s.width = 91; },
        },
      },
    },
    plugins: [decoPlugin(p)],
  };
}

function specs(): Spec[] {
  const sstTitle = (pre: Seg[]): Seg[] => [...pre, { t: ' SST (°C)', s: 20 }];
  const a: Spec = {
    top: 0, height: 380, areaTop: 69, areaBottom: 356,
    yMin: -2.5, yMax: 1, yStep: 0.5, yReverse: true,
    rMin: -48, rMax: -30, rStep: 2, rLabels: true,
    topLabels: true, bottomLabels: false, bandLabels: true, topAgeTitle: true,
    datasets: [
      line(a74KLLine, ORANGE), line(aNiopLine, BLUE), line(aPasomLine, GREEN),
      scatter(a74KLPoints, ORANGE), scatter(aNiopPoints, BLUE), scatter(aPasomPoints, GREEN),
      { type: 'line', data: xy(gripD18O), yAxisID: 'yr', borderColor: GRIPC, borderWidth: 1.3, pointRadius: 0, fill: false, stepped: true, order: 3 },
    ],
    labels: [
      { t: '74KL', x: 0.72, y: -2.09, c: ORANGE, align: 'left' },
      { t: 'NIOP905', x: 4.9, y: -2.04, c: BLUE, align: 'left' },
      { t: 'GRIP', x: 0.62, y: -1.15, c: '#595959', align: 'left' },
      { t: 'PASOM3', x: 34.28, y: -1.06, c: GREEN, align: 'right' },
      { t: 'a.', x: 34.4, y: 0.7, c: '#111', align: 'right', size: 26, bold: false },
    ],
    leftTitle: [{ t: 'δ', s: 20 }, { t: '18', s: 12, dy: -9 }, { t: 'O', s: 20 }, { t: 'G. ruber', s: 12, dy: 5, it: true }, { t: ' (‰)', s: 20 }],
    leftTitleY: 195,
    rightTitle: [{ t: 'GRIP δ', s: 20 }, { t: '18', s: 12, dy: -9 }, { t: 'O (‰)', s: 20 }],
    rightTitleY: 212,
  };
  const b: Spec = {
    top: 380, height: 335, areaTop: 403, areaBottom: 690,
    yMin: 19, yMax: 29, yStep: 2, rMin: 19, rMax: 29, rStep: 2, rLabels: false,
    topLabels: false, bottomLabels: false,
    datasets: [
      star(bCoretopSST.niop, BLUE, 0.1), star(bCoretopSST.kl74, ORANGE, 0.2), star(bCoretopSST.pasom, GREEN, 0.3),
      line(bNiopLine, BLUE), line(bPasomLine, GREEN),
      scatter(b74KLPoints, ORANGE), scatter(bNiopPoints, BLUE), scatter(bPasomPoints, GREEN),
    ],
    labels: [
      { t: 'NIOP905', x: 0.72, y: 28.41, c: BLUE, align: 'left' },
      { t: 'PASOM3', x: 34.23, y: 28.48, c: GREEN, align: 'right' },
      { t: '74KL', x: 25.46, y: 21.33, c: ORANGE, align: 'left' },
      { t: 'b.', x: 34.3, y: 19.8, c: '#111', align: 'right', size: 26, bold: false },
    ],
    leftTitle: sstTitle([{ t: 'Mg/Ca', s: 20 }, { t: 'G. ruber', s: 12, dy: 5, it: true }]),
    leftTitleY: 547,
    errorBar: bErrorBar,
  };
  const c: Spec = {
    top: 715, height: 333, areaTop: 737, areaBottom: 1023,
    yMin: 19, yMax: 29, yStep: 2, rMin: 19, rMax: 29, rStep: 2, rLabels: false,
    topLabels: false, bottomLabels: false,
    datasets: [
      star(cCoretopSST.niop, BLUE, 0.1), star(cCoretopSST.kl74, ORANGE, 0.2), star(cCoretopSST.pasom, GREEN, 0.3),
      line(c74KLLine, ORANGE, 3, 0.3), line(cNiopLine, BLUE, 3, 0.3), line(cPasomLine, GREEN),
      scatter(c74KLPoints, ORANGE), scatter(cNiopPoints, BLUE), scatter(cPasomPoints, GREEN),
    ],
    labels: [
      { t: '74KL', x: 0.88, y: 28.09, c: ORANGE, align: 'left' },
      { t: 'NIOP905', x: 0.98, y: 24.77, c: BLUE, align: 'left' },
      { t: 'PASOM3', x: 34.18, y: 28.09, c: GREEN, align: 'right' },
      { t: 'c.', x: 34.3, y: 19.77, c: '#111', align: 'right', size: 26, bold: false },
    ],
    leftTitle: sstTitle([{ t: 'U', s: 20 }, { t: "K'", s: 12, dy: -10 }, { t: '37', s: 12, dy: 6 }]),
    leftTitleY: 871,
    errorBar: cErrorBar,
  };
  const d: Spec = {
    top: 1048, height: 373, areaTop: 1069, areaBottom: 1355,
    yMin: 19, yMax: 29, yStep: 2, rMin: 19, rMax: 29, rStep: 2, rLabels: false,
    topLabels: false, bottomLabels: true, bottomAgeTitle: true,
    datasets: [
      star(dCoretopSST.kl289, PURPLE, 0.1), star(dCoretopSST.niop, BLUE, 0.2), star(dCoretopSST.kl74, ORANGE, 0.3), star(dCoretopSST.pasom, GREEN, 0.4),
      line(d289KLLine, PURPLE), line(d74KLLine, ORANGE, 3, 0.3), line(dNiopLine, BLUE, 3, 0.3), line(dPasomLine, GREEN),
      scatter(d289KLPoints, PURPLE), scatter(d74KLPoints, ORANGE), scatter(dNiopPoints, BLUE), scatter(dPasomPoints, GREEN),
    ],
    labels: [
      { t: 'NIOP905', x: 0.77, y: 28.44, c: BLUE, align: 'left' },
      { t: 'PASOM3', x: 6.7, y: 28.44, c: GREEN, align: 'left' },
      { t: '289KL', x: 34.54, y: 28.37, c: PURPLE, align: 'right' },
      { t: '74KL', x: 0.88, y: 19.91, c: ORANGE, align: 'left' },
      { t: 'd.', x: 34.3, y: 19.6, c: '#111', align: 'right', size: 26, bold: false },
    ],
    leftTitle: [{ t: 'LDI SST (°C)', s: 20 }],
    leftTitleY: 1190,
    errorBar: dErrorBar,
  };
  return [a, b, c, d];
}

const PANELS = [
  { top: 0, height: 380 },
  { top: 380, height: 335 },
  { top: 715, height: 333 },
  { top: 1048, height: 373 },
];

export default function App() {
  const r0 = useRef<HTMLCanvasElement>(null);
  const r1 = useRef<HTMLCanvasElement>(null);
  const r2 = useRef<HTMLCanvasElement>(null);
  const r3 = useRef<HTMLCanvasElement>(null);
  useEffect(() => {
    const refs = [r0, r1, r2, r3];
    const sp = specs();
    const charts = sp.map((s, i) => new Chart(refs[i].current as HTMLCanvasElement, buildConfig(s)));
    return () => charts.forEach((ch) => ch.destroy());
  }, []);
  const refs = [r0, r1, r2, r3];
  return (
    <div style={{ position: 'absolute', left: 0, top: 0, width: 858, height: 1421, background: '#fff', overflow: 'hidden' }}>
      {PANELS.map((p, i) => (
        <canvas
          key={i}
          ref={refs[i]}
          width={858}
          height={p.height}
          style={{ position: 'absolute', left: 0, top: p.top, width: 858, height: p.height, display: 'block' }}
        />
      ))}
    </div>
  );
}
